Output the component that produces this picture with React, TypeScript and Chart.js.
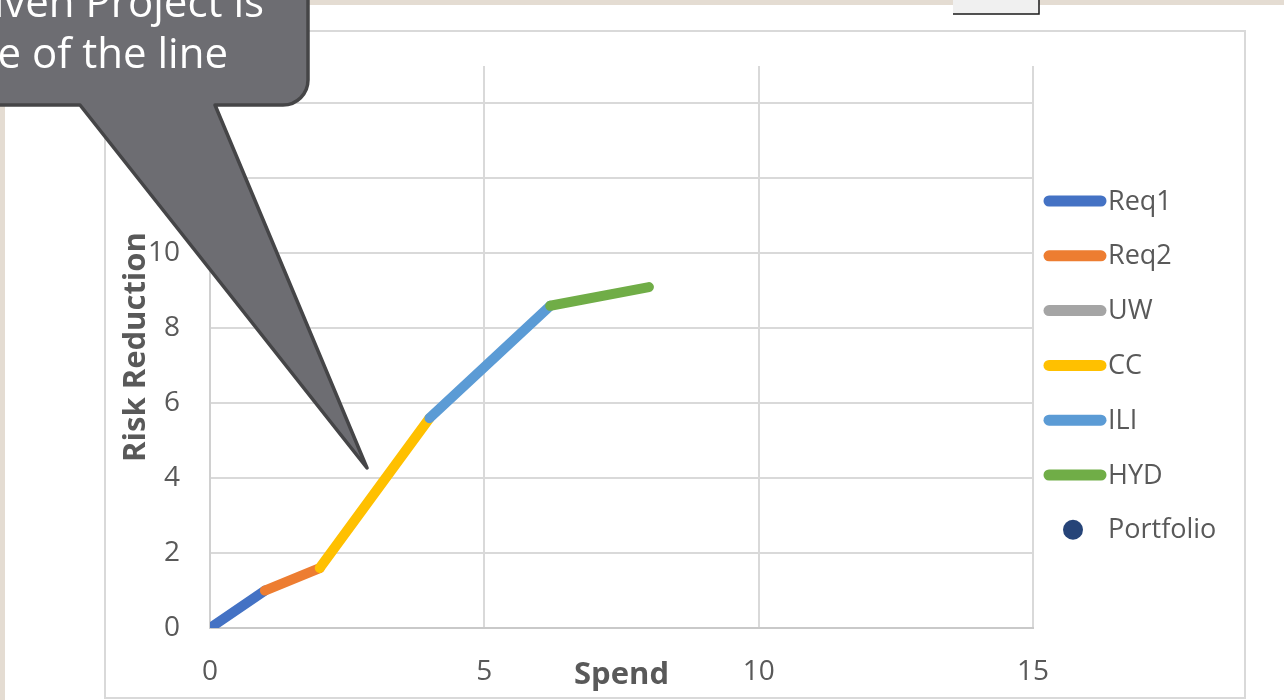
import React, { useEffect, useRef } from "react";
import { Chart, registerables } from "chart.js";

Chart.register(...registerables);

// Cumulative spend / risk reduction path, one segment per project
const seriesNames = ["Req1", "Req2", "UW", "CC", "ILI", "HYD", "Portfolio"];
const seriesColors = ["#4472C4", "#ED7D31", "#A5A5A5", "#FFC000", "#5B9BD5", "#70AD47", "#264478"];

const req1Spend = [0, 1];
const req1Risk = [0, 1];
const req2Spend = [1, 2];
const req2Risk = [1, 1.6];
const uwSpend: number[] = [];
const uwRisk: number[] = [];
const ccSpend = [2, 4];
const ccRisk = [1.6, 5.6];
const iliSpend = [4, 6.2];
const iliRisk = [5.6, 8.6];
const hydSpend = [6.2, 8];
const hydRisk = [8.6, 9.1];
const portfolioSpend: number[] = [];
const portfolioRisk: number[] = [];

const xTickValues = [0, 5, 10, 15];
const yTickStep = 2;
const axisMax = 15;

const calloutLines = ["given Project is", "slope of the line"];

const FONT = "'Open Sans', 'Noto Sans', sans-serif";
const TEXT_GREY = "#595959";

const toPoints = (xs: number[], ys: number[]) => xs.map((x, i) => ({ x, y: ys[i] }));

const seriesPoints = [
  toPoints(req1Spend, req1Risk),
  toPoints(req2Spend, req2Risk),
  toPoints(uwSpend, uwRisk),
  toPoints(ccSpend, ccRisk),
  toPoints(iliSpend, iliRisk),
  toPoints(hydSpend, hydRisk),
  toPoints(portfolioSpend, portfolioRisk),
];

// Page backdrop, white slide panel and the chart frame
const backdropPlugin = {
  id: "backdrop",
  beforeDraw(chart: any) {
    const { ctx, width, height } = chart;
    ctx.save();
    ctx.fillStyle = "#e4dcd2";
    ctx.fillRect(0, 0, width, height);
    ctx.fillStyle = "#ffffff";
    ctx.fillRect(5, 5, width - 5, height - 5);
    // small control at the top edge
    ctx.fillStyle = "#f0f0f0";
    ctx.fillRect(953, 0, 86, 14);
    ctx.strokeStyle = "#1a1a1a";
    ctx.lineWidth = 1.5;
    ctx.beginPath();
    ctx.moveTo(953, 14);
    ctx.lineTo(1039, 14);
    ctx.lineTo(1039, 0);
    ctx.stroke();
    // chart frame
    ctx.strokeStyle = "#d9d9d9";
    ctx.lineWidth = 2;
    ctx.strokeRect(105, 31, 1140, 667);
    ctx.restore();
  },
};

// Legend on the right and the speech-bubble note
const overlayPlugin = {
  id: "overlay",
  afterDraw(chart: any) {
    const { ctx } = chart;
    ctx.save();

    // legend
    const top = 201;
    const gap = 54.8;
    ctx.font = `27px ${FONT}`;
    ctx.textBaseline = "middle";
    ctx.textAlign = "left";
    chart.data.datasets.forEach((ds: any, i: number) => {
      const y = top + i * gap;
      if (ds.showLine === false) {
        ctx.fillStyle = ds.backgroundColor;
        ctx.beginPath();
        ctx.arc(1073, y, 10, 0, Math.PI * 2);
        ctx.fill();
      } else {
        ctx.strokeStyle = ds.borderColor;
        ctx.lineWidth = 11;
        ctx.lineCap = "round";
        ctx.beginPath();
        ctx.moveTo(1049, y);
        ctx.lineTo(1101, y);
        ctx.stroke();
      }
      ctx.fillStyle = TEXT_GREY;
      ctx.fillText(ds.label, 1108, y + 1);
    });

    // speech bubble
    const r = 25;
    ctx.beginPath();
    ctx.moveTo(-300, -100);
    ctx.lineTo(308, -100);
    ctx.lineTo(308, 105 - r);
    ctx.arcTo(308, 105, 308 - r, 105, r);
    ctx.lineTo(215, 105);
    ctx.lineTo(367, 468);
    ctx.lineTo(80, 105);
    ctx.lineTo(-300, 105);
    ctx.closePath();
    ctx.fillStyle = "#6d6d72";
    ctx.fill();
    ctx.strokeStyle = "#454547";
    ctx.lineWidth = 3.5;
    ctx.lineJoin = "round";
    ctx.stroke();

    ctx.fillStyle = "#ffffff";
    ctx.font = `42px ${FONT}`;
    ctx.textAlign = "right";
    ctx.textBaseline = "alphabetic";
    ctx.fillText(calloutLines[0], 264, 17);
    ctx.fillText(calloutLines[1], 228, 68);

    ctx.restore();
  },
};

export default function App() {
  const canvasRef = useRef<HTMLCanvasElement | null>(null);

  useEffect(() => {
    if (!canvasRef.current) return;
    const n = seriesNames.length;
    const datasets = seriesNames.map((name, i) => {
      const isPoint = name === "Portfolio";
      return {
        label: name,
        data: seriesPoints[i],
        borderColor: seriesColors[i],
        backgroundColor: seriesColors[i],
        borderWidth: 10,
        borderCapStyle: "round" as const,
        borderJoinStyle: "round" as const,
        showLine: !isPoint,
        pointRadius: isPoint ? 7 : 0,
        pointHoverRadius: isPoint ? 7 : 0,
        clip: 0,
        order: n - i,
      };
    });

    const chart = new Chart(canvasRef.current, {
      type: "line",
      data: { datasets },
      options: {
        animation: false,
        responsive: true,
        maintainAspectRatio: false,
        layout: { padding: { left: 110, right: 251, top: 66, bottom: 4 } },
        plugins: {
          legend: { display: false },
          tooltip: { enabled: false },
        },
        scales: {
          x: {
            type: "linear",
            min: 0,
            max: axisMax,
            afterFit(scale: any) {
              scale.height = 68;
            },
            afterBuildTicks(scale: any) {
              scale.ticks = xTickValues.map((v) => ({ value: v }));
            },
            ticks: {
              font: { family: FONT, size: 28 },
              color: TEXT_GREY,
              padding: 27,
              maxRotation: 0,
            },
            grid: { color: "#d9d9d9", lineWidth: 2, drawTicks: false },
            border: { display: true, color: "#c9c9c9", width: 2 },
            title: {
              display: true,
              text: "Spend",
              color: TEXT_GREY,
              font: { family: FONT, size: 31, weight: "bold" },
              padding: { top: 0, bottom: 2 },
            },
          },
          y: {
            type: "linear",
            min: 0,
            max: axisMax,
            afterFit(scale: any) {
              scale.width = 100;
            },
            ticks: {
              stepSize: yTickStep,
              includeBounds: false,
              font: { family: FONT, size: 28 },
              color: TEXT_GREY,
              padding: 30,
            },
            grid: { color: "#d9d9d9", lineWidth: 2, drawTicks: false },
            border: { display: true, color: "#d0d0d0", width: 2 },
            title: {
              display: true,
              text: "Risk Reduction",
              color: TEXT_GREY,
              font: { family: FONT, size: 31, weight: "bold" },
              padding: { top: 8, bottom: 0 },
            },
          },
        },
      },
      plugins: [backdropPlugin, overlayPlugin],
    });

    return () => chart.destroy();
  }, []);

  return (
    <div style={{ position: "fixed", left: 0, top: 0, width: 1284, height: 700 }}>
      <canvas ref={canvasRef} />
    </div>
  );
}
